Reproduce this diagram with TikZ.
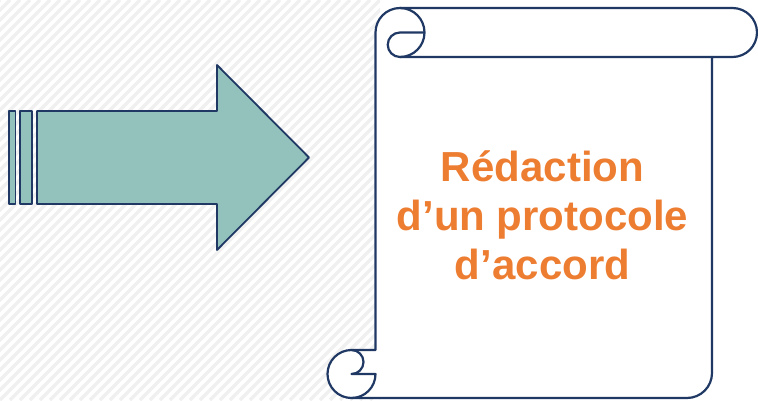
\documentclass[tikz,border=0pt]{standalone}
\usepackage{fontspec}
\setmainfont{Liberation Sans}
\usetikzlibrary{positioning}

\definecolor{navy}{HTML}{1F3864}
\definecolor{teal}{HTML}{93C1BB}
\definecolor{orng}{HTML}{ED7D31}

\begin{document}
\begin{tikzpicture}[x=1pt, y=1pt,
    outline/.style={draw=navy, line width=2.2pt, line join=round},
    stripe/.style={black!6, line width=3.5pt}]
    \useasboundingbox (0,0) rectangle (758,400);

    % Draw background stripes
    \begin{scope}
      \clip (0,0) rectangle (380,400);
      \foreach \c in {-400,-390,...,380}
        \draw[stripe] (\c,0) -- (\c+400,400);
    \end{scope}

    % Draw small bars behind the arrow
    \draw[outline, fill=teal, line width=1.8pt] (9,196) rectangle (15.5,289);
    \draw[outline, fill=teal, line width=1.8pt] (20,196) rectangle (32,289);

    % Draw arrow
    \draw[outline, fill=teal, line width=1.8pt] (37,196) -- (217,196) -- (217,150) -- (309,242.5)
      -- (217,335) -- (217,289) -- (37,289) -- cycle;

    % Draw scroll outline
    \draw[outline, fill=white] (375.5,367.5) arc[start angle=180, end angle=90, radius=24.5]
      -- (732.5,392) arc[start angle=90, end angle=-90, radius=24.5]
      -- (712,343) -- (712,27) arc[start angle=0, end angle=-90, radius=25]
      -- (351.5,2) arc[start angle=-90, end angle=-270, radius=24]
      -- (375.5,50) -- cycle;

    % Draw top roll
    \draw[outline] (712,343) -- (400,343) arc[start angle=-90, end angle=-270, radius=12.25]
      -- (424.5,367.5);
    \draw[outline] (400,392) arc[start angle=90, end angle=-90, radius=24.5];

    % Draw bottom roll
    \draw[outline] (351.5,50) arc[start angle=90, end angle=-90, radius=12]
      -- (375.5,26) arc[start angle=0, end angle=-90, radius=24];

    % Draw title
    \node[text=orng, align=center, font=\bfseries\fontsize{42}{49}\selectfont]
      (titre) at (542.5,185) {Rédaction\\d’un protocole\\d’accord};

  \end{tikzpicture}
\end{document}
